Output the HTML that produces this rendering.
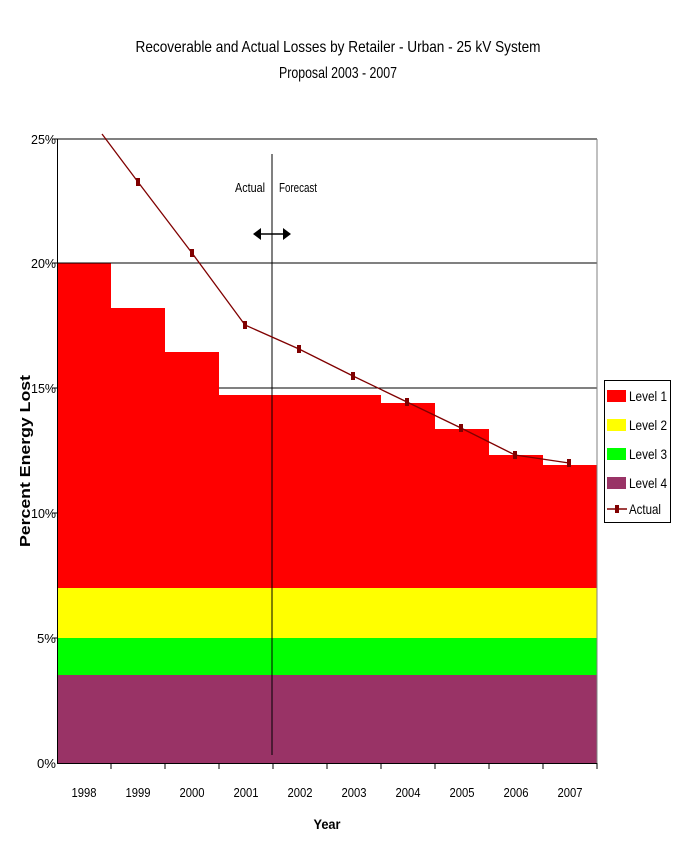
<!DOCTYPE html><html><head><style>body{margin:0;background:#fff}svg{display:block}text{font-family:"Liberation Sans",Arial,sans-serif}</style></head><body>
<svg width="673" height="862" viewBox="0 0 673 862">
<text x="338" y="52" font-size="16" text-anchor="middle" textLength="405" lengthAdjust="spacingAndGlyphs">Recoverable and Actual Losses by Retailer - Urban - 25 kV System</text>
<text x="338" y="78" font-size="16" text-anchor="middle" textLength="118" lengthAdjust="spacingAndGlyphs">Proposal 2003 - 2007</text>
<rect x="57" y="675" width="540" height="88" fill="#993366"/>
<rect x="57" y="638" width="540" height="37" fill="#00ff00"/>
<rect x="57" y="588" width="540" height="50" fill="#ffff00"/>
<path d="M57 588V263H111V308H165V352H219V395H381V403H435V429H489V455H543V465H597V588Z" fill="#ff0000"/>
<line x1="57" y1="139" x2="597" y2="139" stroke="#808080" stroke-width="2"/>
<line x1="57" y1="263" x2="597" y2="263" stroke="#000"/>
<line x1="219" y1="388" x2="597" y2="388" stroke="#000"/>
<line x1="57.5" y1="139" x2="57.5" y2="763" stroke="#000"/>
<line x1="597" y1="139" x2="597" y2="763" stroke="#808080"/>
<line x1="57" y1="763.5" x2="597" y2="763.5" stroke="#000"/>
<g stroke="#000">
<line x1="52" y1="139" x2="57" y2="139"/><line x1="52" y1="263" x2="57" y2="263"/><line x1="52" y1="388" x2="57" y2="388"/><line x1="52" y1="513" x2="57" y2="513"/><line x1="52" y1="638" x2="57" y2="638"/>
<line x1="111" y1="763" x2="111" y2="769"/><line x1="165" y1="763" x2="165" y2="769"/><line x1="219" y1="763" x2="219" y2="769"/><line x1="273" y1="763" x2="273" y2="769"/><line x1="327" y1="763" x2="327" y2="769"/><line x1="381" y1="763" x2="381" y2="769"/><line x1="435" y1="763" x2="435" y2="769"/><line x1="489" y1="763" x2="489" y2="769"/><line x1="543" y1="763" x2="543" y2="769"/><line x1="597" y1="763" x2="597" y2="769"/>
</g>
<g font-size="13" text-anchor="end">
<text x="56" y="144" textLength="25" lengthAdjust="spacingAndGlyphs">25%</text>
<text x="56" y="268" textLength="25" lengthAdjust="spacingAndGlyphs">20%</text>
<text x="56" y="393" textLength="25" lengthAdjust="spacingAndGlyphs">15%</text>
<text x="56" y="518" textLength="25" lengthAdjust="spacingAndGlyphs">10%</text>
<text x="56" y="643" textLength="19" lengthAdjust="spacingAndGlyphs">5%</text>
<text x="56" y="768" textLength="19" lengthAdjust="spacingAndGlyphs">0%</text>
</g>
<g font-size="13" text-anchor="middle">
<text x="84" y="797" textLength="25" lengthAdjust="spacingAndGlyphs">1998</text>
<text x="138" y="797" textLength="25" lengthAdjust="spacingAndGlyphs">1999</text>
<text x="192" y="797" textLength="25" lengthAdjust="spacingAndGlyphs">2000</text>
<text x="246" y="797" textLength="25" lengthAdjust="spacingAndGlyphs">2001</text>
<text x="300" y="797" textLength="25" lengthAdjust="spacingAndGlyphs">2002</text>
<text x="354" y="797" textLength="25" lengthAdjust="spacingAndGlyphs">2003</text>
<text x="408" y="797" textLength="25" lengthAdjust="spacingAndGlyphs">2004</text>
<text x="462" y="797" textLength="25" lengthAdjust="spacingAndGlyphs">2005</text>
<text x="516" y="797" textLength="25" lengthAdjust="spacingAndGlyphs">2006</text>
<text x="570" y="797" textLength="25" lengthAdjust="spacingAndGlyphs">2007</text>
</g>
<text x="327" y="829" font-size="14" font-weight="bold" text-anchor="middle" textLength="27" lengthAdjust="spacingAndGlyphs">Year</text>
<text transform="translate(30,461) rotate(-90)" font-size="15" font-weight="bold" text-anchor="middle" textLength="172" lengthAdjust="spacingAndGlyphs">Percent Energy Lost</text>
<line x1="272" y1="154" x2="272" y2="755" stroke="#000"/>
<text x="265" y="192" font-size="13" text-anchor="end" textLength="30" lengthAdjust="spacingAndGlyphs">Actual</text>
<text x="279" y="192" font-size="13" textLength="38" lengthAdjust="spacingAndGlyphs">Forecast</text>
<line x1="256" y1="234" x2="288" y2="234" stroke="#000" stroke-width="1.5"/>
<path d="M253 234l8-6v12zM291 234l-8-6v12z" fill="#000"/>
<polyline points="102,134 138,182 192,253 245,325 299,349 353,376 407,402 461,428 515,455 569,463" fill="none" stroke="#800000" stroke-width="1.3"/>
<g fill="#800000">
<rect x="136" y="178" width="4" height="8"/><rect x="190" y="249" width="4" height="8"/><rect x="243" y="321" width="4" height="8"/><rect x="297" y="345" width="4" height="8"/><rect x="351" y="372" width="4" height="8"/><rect x="405" y="398" width="4" height="8"/><rect x="459" y="424" width="4" height="8"/><rect x="513" y="451" width="4" height="8"/><rect x="567" y="459" width="4" height="8"/>
</g>
<rect x="604.5" y="380.5" width="66" height="142" fill="#fff" stroke="#000"/>
<rect x="607" y="390" width="19" height="12" fill="#ff0000"/>
<rect x="607" y="419" width="19" height="12" fill="#ffff00"/>
<rect x="607" y="448" width="19" height="12" fill="#00ff00"/>
<rect x="607" y="477" width="19" height="12" fill="#993366"/>
<line x1="607" y1="509" x2="627" y2="509" stroke="#800000" stroke-width="1.5"/><rect x="615" y="505" width="4" height="8" fill="#800000"/>
<g font-size="14">
<text x="629" y="401" textLength="38" lengthAdjust="spacingAndGlyphs">Level 1</text>
<text x="629" y="430" textLength="38" lengthAdjust="spacingAndGlyphs">Level 2</text>
<text x="629" y="459" textLength="38" lengthAdjust="spacingAndGlyphs">Level 3</text>
<text x="629" y="488" textLength="38" lengthAdjust="spacingAndGlyphs">Level 4</text>
<text x="629" y="514" textLength="32" lengthAdjust="spacingAndGlyphs">Actual</text>
</g>
</svg></body></html>
